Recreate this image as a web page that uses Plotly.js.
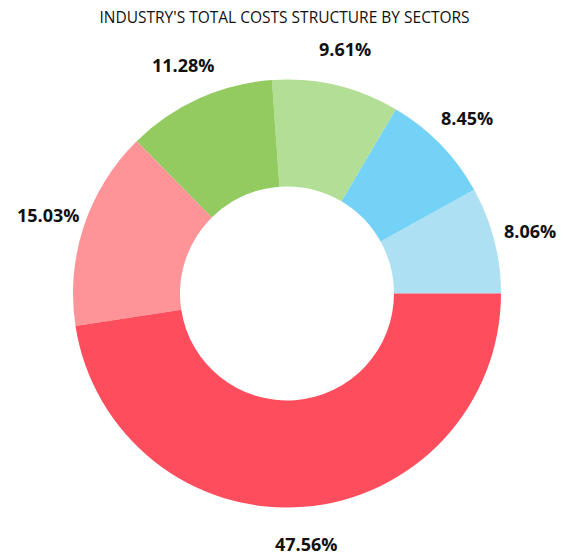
<!DOCTYPE html>
<html>
<head>
<meta charset="utf-8">
<script src="https://cdn.plot.ly/plotly-3.0.1.min.js"></script>
<style>html,body{margin:0;padding:0;background:#fff;}#chart{width:569px;height:556px;}</style>
</head>
<body>
<div id="chart"></div>
<script>
const sectors = ["Sector A", "Sector B", "Sector C", "Sector D", "Sector E", "Sector F"];
const shares = [8.06, 8.45, 9.61, 11.28, 15.03, 47.56];
const sliceColors = ["#ADE0F3", "#74D2F6", "#B2DF95", "#93CB60", "#FE9498", "#FE4D5C"];
const shareLabels = shares.map(v => v.toFixed(2) + "%");

const W = 569, H = 556;
const M = {l: 73, r: 68, t: 79, b: 48};
const total = shares.reduce((a, b) => a + b, 0);
const firstFrac = shares[0] / total;

// label positions along slice mid-angles (counterclockwise from 3 o'clock)
const plotW = W - M.l - M.r, plotH = H - M.t - M.b;
const R = Math.min(plotW, plotH) / 2;
const labelR = R + 37;
let cum = 0;
const annotations = shares.map((v, i) => {
  const mid = (cum + v / 2) / total * 2 * Math.PI;
  cum += v;
  const dx = labelR * Math.cos(mid), dy = labelR * Math.sin(mid);
  return {
    xref: "paper", yref: "paper",
    x: 0.5 + dx / plotW, y: 0.5 + dy / plotH,
    xanchor: "center", yanchor: "middle",
    text: "<b>" + shareLabels[i] + "</b>",
    showarrow: false,
    font: {family: "Open Sans, sans-serif", size: 18, color: "#111"}
  };
});

Plotly.newPlot("chart", [{
  type: "pie",
  labels: sectors,
  values: shares,
  textinfo: "none",
  sort: false,
  direction: "counterclockwise",
  rotation: 90 - firstFrac * 360,
  hole: 0.5,
  marker: {colors: sliceColors, line: {width: 0}},
  showlegend: false
}], {
  width: W, height: H,
  margin: M,
  annotations: annotations,
  title: {text: "INDUSTRY'S TOTAL COSTS STRUCTURE BY SECTORS", font: {family: "Open Sans, sans-serif", size: 15.5, color: "#111"}, x: 0.5, xanchor: "center", y: 0.978, yanchor: "top"},
  paper_bgcolor: "#fff"
}, {displayModeBar: false, staticPlot: true});
</script>
</body>
</html>
